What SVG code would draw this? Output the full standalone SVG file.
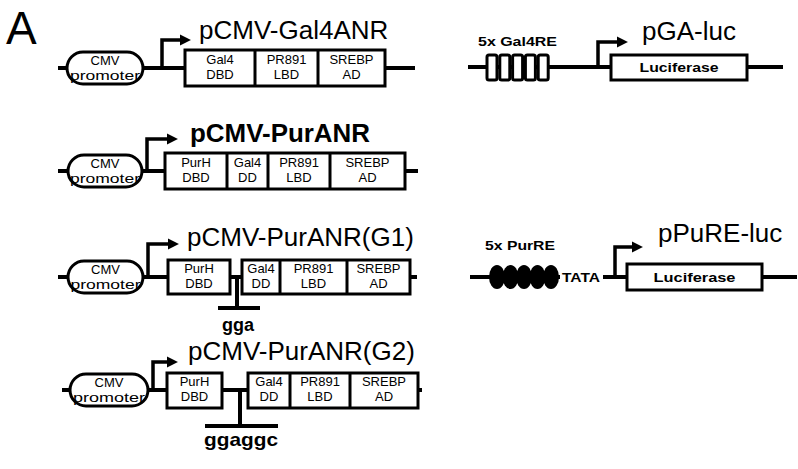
<svg xmlns="http://www.w3.org/2000/svg" width="798" height="469" viewBox="0 0 798 469">
<defs>
<style>
.ln{fill:none;stroke:#000;stroke-width:4}
.bx{fill:#fff;stroke:#000;stroke-width:3}
.ar{fill:none;stroke:#000;stroke-width:3.5}
.pl{fill:#fff;stroke:#000;stroke-width:3}
.t{font-family:"Liberation Sans",Arial,sans-serif;fill:#000}
.title{font-size:26px}
.lab{font-size:13px;text-anchor:middle}
.pro{font-size:13px;text-anchor:middle}
.bd{font-weight:bold}
</style>
<marker id="ah" viewBox="0 0 10 10" refX="2" refY="5" markerWidth="3.2" markerHeight="3.2" orient="auto" markerUnits="strokeWidth">
<path d="M0,0 L10,5 L0,10 Z" fill="#000"/>
</marker>
</defs>
<rect width="798" height="469" fill="#fff"/>
<text class="t" x="6" y="44" font-size="46">A</text>

<g id="connectors">
<path class="ln" d="M58,68 H415"/>
<path class="ar" d="M162,68 V40 H182" marker-end="url(#ah)"/>
<path class="ln" d="M58,171 H418"/>
<path class="ar" d="M147,171 V139 H169" marker-end="url(#ah)"/>
<path class="ln" d="M58,277 H417"/>
<path class="ar" d="M148,277 V244 H170" marker-end="url(#ah)"/>
<path class="ln" d="M237,277 V308 M218,308 H260"/>
<path class="ln" d="M62,390 H422"/>
<path class="ar" d="M153,390 V362 H169" marker-end="url(#ah)"/>
<path class="ln" d="M240,390 V426 M205,426 H278"/>
<path class="ln" d="M468,67 H783"/>
<path class="ar" d="M598,67 V42 H619" marker-end="url(#ah)"/>
<path class="ln" d="M470,277 H560 M603,277 H627 M762,277 H797"/>
<path class="ar" d="M615,277 V247 H634" marker-end="url(#ah)"/>
</g>

<g id="pCMV-Gal4ANR">
<rect class="pl" x="67" y="52" width="76" height="32" rx="16"/>
<text class="t pro" x="105" y="65" font-size="14">CMV</text>
<text class="t pro" x="105" y="80" textLength="70" lengthAdjust="spacingAndGlyphs">promoter</text>
<rect class="bx" x="185" y="50" width="200" height="36"/>
<path class="bx" d="M255,50 V86 M318,50 V86"/>
<text class="t lab" x="220" y="64">Gal4</text><text class="t lab" x="220" y="79">DBD</text>
<text class="t lab" x="286.5" y="64">PR891</text><text class="t lab" x="286.5" y="79">LBD</text>
<text class="t lab" x="351.5" y="64">SREBP</text><text class="t lab" x="351.5" y="79">AD</text>
<text class="t title" x="199" y="39">pCMV-Gal4ANR</text>
</g>

<g id="pCMV-PurANR">
<rect class="pl" x="68" y="155" width="74" height="32" rx="16"/>
<text class="t pro" x="105" y="168" font-size="14">CMV</text>
<text class="t pro" x="105" y="183" textLength="70" lengthAdjust="spacingAndGlyphs">promoter</text>
<rect class="bx" x="165" y="153" width="240" height="36"/>
<path class="bx" d="M227,153 V189 M268,153 V189 M330,153 V189"/>
<text class="t lab" x="196" y="167">PurH</text><text class="t lab" x="196" y="182">DBD</text>
<text class="t lab" x="247.5" y="167">Gal4</text><text class="t lab" x="247.5" y="182">DD</text>
<text class="t lab" x="299" y="167">PR891</text><text class="t lab" x="299" y="182">LBD</text>
<text class="t lab" x="367.5" y="167">SREBP</text><text class="t lab" x="367.5" y="182">AD</text>
<text class="t title bd" x="190" y="142" textLength="180" lengthAdjust="spacingAndGlyphs">pCMV-PurANR</text>
</g>

<g id="pCMV-PurANR-G1">
<rect class="pl" x="68" y="261" width="75" height="32" rx="16"/>
<text class="t pro" x="105.5" y="274" font-size="14">CMV</text>
<text class="t pro" x="105.5" y="289" textLength="70" lengthAdjust="spacingAndGlyphs">promoter</text>
<rect class="bx" x="168" y="260" width="62" height="34"/>
<rect class="bx" x="242" y="260" width="168" height="34"/>
<path class="bx" d="M280,260 V294 M347,260 V294"/>
<text class="t lab" x="199" y="273">PurH</text><text class="t lab" x="199" y="288">DBD</text>
<text class="t lab" x="261" y="273">Gal4</text><text class="t lab" x="261" y="288">DD</text>
<text class="t lab" x="313.5" y="273">PR891</text><text class="t lab" x="313.5" y="288">LBD</text>
<text class="t lab" x="378.5" y="273">SREBP</text><text class="t lab" x="378.5" y="288">AD</text>
<text class="t title" x="187" y="246">pCMV-PurANR(G1)</text>
<text class="t bd" x="238" y="331" font-size="18" text-anchor="middle">gga</text>
</g>

<g id="pCMV-PurANR-G2">
<rect class="pl" x="70" y="374" width="78" height="32" rx="16"/>
<text class="t pro" x="109" y="387" font-size="14">CMV</text>
<text class="t pro" x="109" y="402" textLength="72" lengthAdjust="spacingAndGlyphs">promoter</text>
<rect class="bx" x="167" y="373" width="55" height="35"/>
<rect class="bx" x="248" y="373" width="170" height="35"/>
<path class="bx" d="M290,373 V408 M350,373 V408"/>
<text class="t lab" x="194.5" y="386">PurH</text><text class="t lab" x="194.5" y="401">DBD</text>
<text class="t lab" x="269" y="386">Gal4</text><text class="t lab" x="269" y="401">DD</text>
<text class="t lab" x="320" y="386">PR891</text><text class="t lab" x="320" y="401">LBD</text>
<text class="t lab" x="384" y="386">SREBP</text><text class="t lab" x="384" y="401">AD</text>
<text class="t title" x="188" y="360">pCMV-PurANR(G2)</text>
<text class="t bd" x="241" y="446" font-size="19" text-anchor="middle" textLength="74" lengthAdjust="spacingAndGlyphs">ggaggc</text>
</g>

<g id="pGA-luc">
<rect class="bx" x="487" y="55" width="10" height="25" rx="2"/>
<rect class="bx" x="499.8" y="55" width="10" height="25" rx="2"/>
<rect class="bx" x="512.6" y="55" width="10" height="25" rx="2"/>
<rect class="bx" x="525.4" y="55" width="10" height="25" rx="2"/>
<rect class="bx" x="538.2" y="55" width="10" height="25" rx="2"/>
<text class="t bd" x="478" y="46" font-size="13" textLength="79" lengthAdjust="spacingAndGlyphs">5x Gal4RE</text>
<rect class="bx" x="611" y="55" width="136" height="25"/>
<text class="t bd" x="679" y="72" font-size="13" text-anchor="middle" textLength="79" lengthAdjust="spacingAndGlyphs">Luciferase</text>
<text class="t title" x="642" y="40">pGA-luc</text>
</g>

<g id="pPuRE-luc">
<ellipse cx="497" cy="277" rx="8" ry="12" fill="#000"/>
<ellipse cx="510.5" cy="277" rx="8" ry="12" fill="#000"/>
<ellipse cx="524" cy="277" rx="8" ry="12" fill="#000"/>
<ellipse cx="537.5" cy="277" rx="8" ry="12" fill="#000"/>
<ellipse cx="551" cy="277" rx="8" ry="12" fill="#000"/>
<text class="t bd" x="485" y="250" font-size="13" textLength="70" lengthAdjust="spacingAndGlyphs">5x PurRE</text>
<text class="t bd" x="562" y="282" font-size="13" textLength="38" lengthAdjust="spacingAndGlyphs">TATA</text>
<rect class="bx" x="627" y="264" width="135" height="26"/>
<text class="t bd" x="694.5" y="282" font-size="13" text-anchor="middle" textLength="82" lengthAdjust="spacingAndGlyphs">Luciferase</text>
<text class="t title" x="658" y="242" font-size="27">pPuRE-luc</text>
</g>
</svg>
